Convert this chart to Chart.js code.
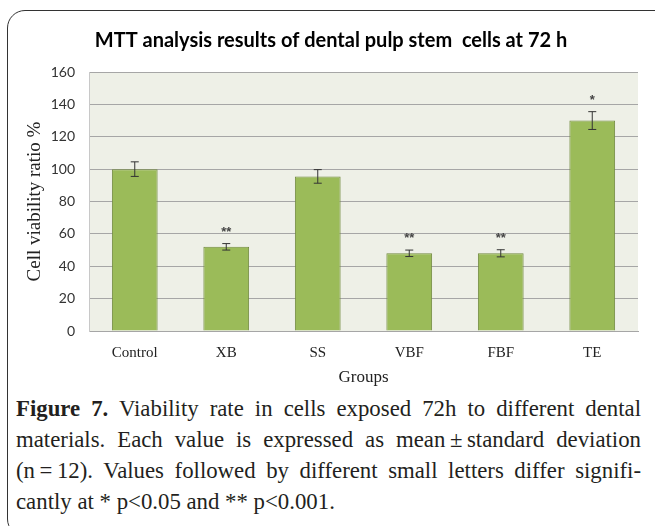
<!DOCTYPE html>
<html>
<head>
<meta charset="utf-8">
<script src="https://cdn.jsdelivr.net/npm/chart.js@4"></script>
<style>
    body {
        margin: 0;
        background: #ffffff;
        width: 655px;
        height: 526px;
        overflow: hidden;
        position: relative;
    }

    .frame {
        position: absolute;
        left: 7px;
        top: 10px;
        width: 700px;
        height: 525px;
        border: 1.5px solid #333333;
        border-radius: 18px;
    }

    .chartBox {
        position: absolute;
        left: 0;
        top: 0;
        width: 655px;
        height: 391px;
    }

    .caption {
        position: absolute;
        left: 16px;
        top: 393px;
        width: 625px;
        font-family: "Liberation Serif", "Times New Roman", serif;
        font-size: 22.8px;
        line-height: 31px;
        color: #231f20;
    }

    .caption div {
        text-align: justify;
        text-align-last: justify;
        white-space: nowrap;
    }

    .caption div.last {
        text-align-last: left;
    }
</style>
</head>
<body>

<div class="frame"></div>

<div class="chartBox">
    <canvas id="mttChart" width="655" height="391"></canvas>
</div>

<div class="caption">
    <div><b>Figure 7.</b> Viability rate in cells exposed 72h to different dental</div>
    <div>materials. Each value is expressed as mean&#8201;±&#8201;standard deviation</div>
    <div>(n&#8201;=&#8201;12). Values followed by different small letters differ signifi-</div>
    <div class="last">cantly at * p&lt;0.05 and ** p&lt;0.001.</div>
</div>

<script>

const groups = ["Control", "XB", "SS", "VBF", "FBF", "TE"];

const viability = [100, 52, 95.5, 48, 48, 130];

const deviation = [4.5, 2, 4.2, 2, 2.2, 5.5];

const significance = ["", "**", "", "**", "**", "*"];

const yTicks = [0, 20, 40, 60, 80, 100, 120, 140, 160];


// grey-green plot background like the Excel chart
const plotBackground = {
    id: "plotBackground",

    beforeDraw: function(chart) {

        const area = chart.chartArea;
        const ctx = chart.ctx;

        ctx.save();
        ctx.fillStyle = "#eef0e7";
        ctx.fillRect(
            area.left,
            area.top,
            area.right - area.left,
            area.bottom - area.top
        );
        ctx.restore();
    }
};


// error bars and the star marks above them
const errorBars = {
    id: "errorBars",

    afterDatasetsDraw: function(chart) {

        const ctx = chart.ctx;
        const yScale = chart.scales.y;
        const meta = chart.getDatasetMeta(0);

        ctx.save();

        meta.data.forEach(
            function(bar, i) {

                const x = bar.x;
                const top = yScale.getPixelForValue(
                    viability[i] + deviation[i]
                );
                const bottom = yScale.getPixelForValue(
                    viability[i] - deviation[i]
                );

                ctx.strokeStyle = "#333333";
                ctx.lineWidth = 1;

                ctx.beginPath();
                ctx.moveTo(x, top);
                ctx.lineTo(x, bottom);
                ctx.moveTo(x - 4, top);
                ctx.lineTo(x + 4, top);
                ctx.moveTo(x - 4, bottom);
                ctx.lineTo(x + 4, bottom);
                ctx.stroke();

                if (significance[i] !== "") {

                    ctx.fillStyle = "#444444";
                    ctx.font = "bold 13px 'Liberation Sans'";
                    ctx.textAlign = "center";
                    ctx.textBaseline = "alphabetic";
                    ctx.fillText(
                        significance[i],
                        x,
                        top - 8
                    );
                }
            }
        );

        ctx.restore();
    }
};


const canvas =
    document.getElementById(
        "mttChart"
    );

window.mttChart =
    new Chart(
        canvas,
        {
            type: "bar",

            data: {

                labels: groups,

                datasets: [
                    {
                        data: viability,
                        backgroundColor: "#9bbb59",
                        borderColor: "#71893f",
                        borderWidth: 1,
                        barPercentage: 0.5,
                        categoryPercentage: 1
                    }
                ]
            },

            options: {
                responsive: false,
                animation: false,

                layout: {
                    padding: {
                        left: 24,
                        right: 17,
                        top: 0,
                        bottom: 0
                    }
                },

                plugins: {
                    legend: {
                        display: false
                    },
                    tooltip: {
                        enabled: false
                    },
                    title: {
                        display: true,
                        text: "MTT analysis results of dental pulp stem  cells at 72 h",
                        color: "#000000",
                        font: {
                            family: "Lato",
                            size: 20,
                            weight: "bold"
                        },
                        padding: {
                            top: 29,
                            bottom: 19
                        }
                    }
                },

                scales: {

                    x: {
                        grid: {
                            display: false
                        },
                        border: {
                            color: "#a6a6a6"
                        },
                        ticks: {
                            color: "#222222",
                            padding: 5,
                            font: {
                                family: "'Liberation Serif'",
                                size: 15
                            }
                        },
                        title: {
                            display: true,
                            text: "Groups",
                            color: "#222222",
                            padding: {
                                top: 0,
                                bottom: 3
                            },
                            font: {
                                family: "'Liberation Serif'",
                                size: 17
                            }
                        },
                        afterFit: function(scale) {
                            scale.height = 60;
                        }
                    },

                    y: {
                        min: 0,
                        max: 160,
                        afterBuildTicks: function(scale) {
                            scale.ticks = yTicks.map(
                                function(v) {
                                    return { value: v };
                                }
                            );
                        },
                        grid: {
                            color: "#a6a6a6",
                            drawTicks: false
                        },
                        border: {
                            color: "#c8c8c8"
                        },
                        ticks: {
                            color: "#333333",
                            padding: 14,
                            font: {
                                family: "Lato",
                                size: 14
                            }
                        },
                        title: {
                            display: true,
                            text: "Cell viability ratio %",
                            color: "#222222",
                            padding: {
                                top: 0,
                                bottom: 0
                            },
                            font: {
                                family: "'Liberation Serif'",
                                size: 19
                            }
                        },
                        afterFit: function(scale) {
                            scale.width = 65;
                        }
                    }
                }
            },

            plugins: [plotBackground, errorBars]
        }
    );

</script>
</body>
</html>
